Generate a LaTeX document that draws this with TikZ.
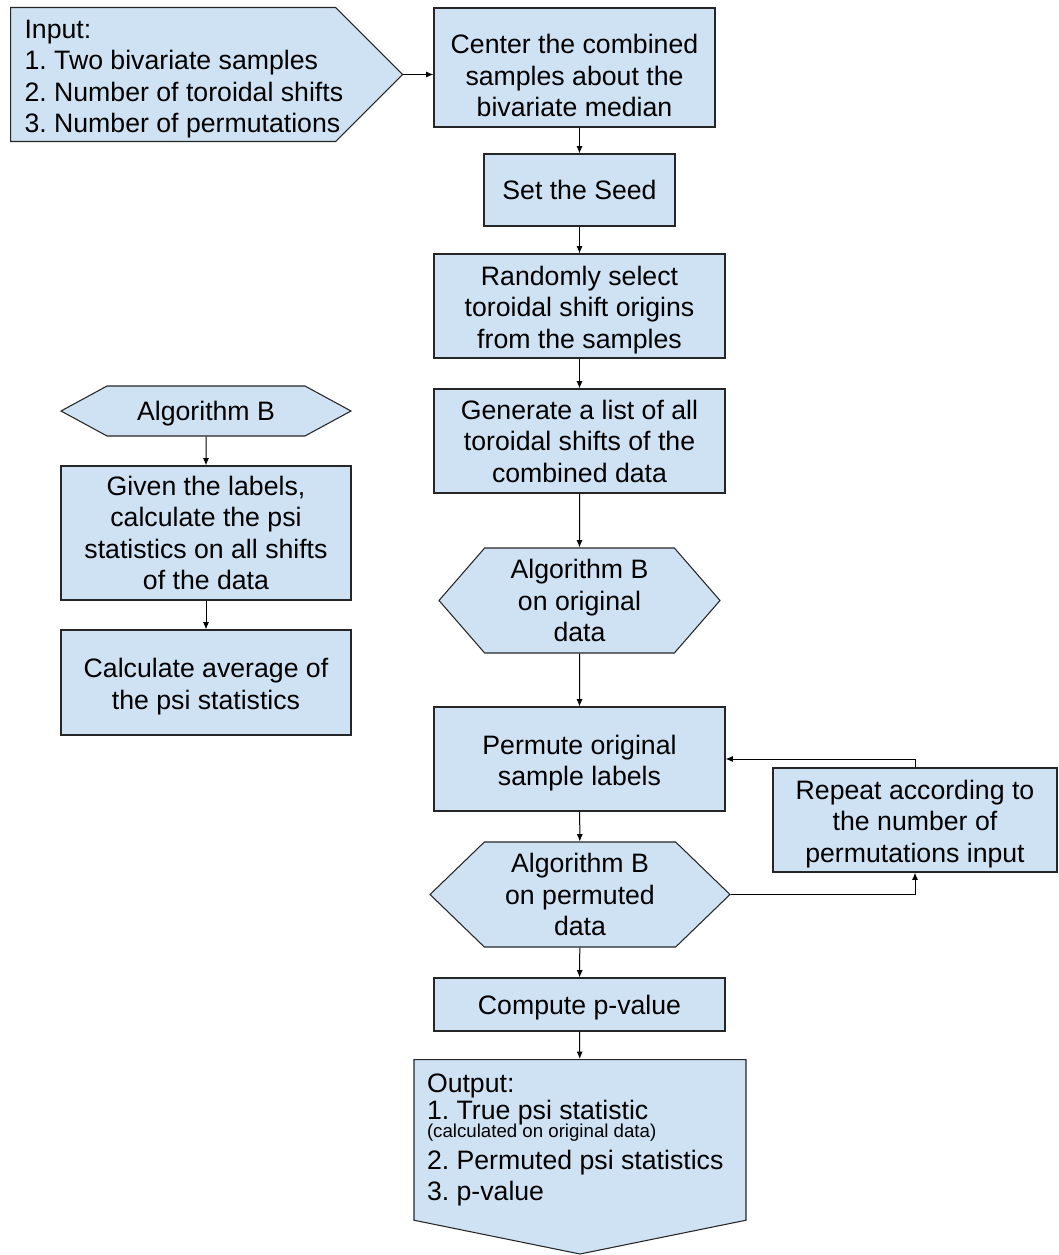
\documentclass[tikz,border=0pt]{standalone}
\usepackage{fontspec}
\setmainfont{Liberation Sans}
\usetikzlibrary{shapes.symbols,arrows.meta,positioning}
\definecolor{boxblue}{HTML}{CFE2F3}
\def\px{0.75pt}
\newcommand{\pushdown}[1]{\rule{0pt}{#1}}
\frenchspacing
\tikzset{
    box/.style={draw=black!85, fill=boxblue, line width=0.8pt, align=center, inner sep=0pt,
        font=\fontsize{20}{23.6}\selectfont},
    rbox/.style 2 args={box, minimum width=#1*\px, minimum height=#2*\px},
    hexa/.style={box, signal, signal to=east and west, signal pointer angle=#1},
    arr/.style={-{Latex[length=5.5pt,width=4.5pt]}, line width=0.75pt},
}
\begin{document}
\begin{tikzpicture}[x=\px, y=-\px]
    \useasboundingbox (0,0) rectangle (1058,1255);
    % input and output
    \node[box, signal, signal to=east, signal pointer angle=90, align=left, anchor=west,
        text width=297*\px, inner xsep=14*\px, minimum height=134*\px] (inp) at (10,74.5)
        {\spaceskip=0pt\relax\mbox{\pushdown{20.6pt}Input:}\\\mbox{1. Two bivariate samples}\\\mbox{2. Number of toroidal shifts}\\\mbox{3. Number of permutations}};
    \node[box, signal, signal to=south, signal pointer angle=157, align=left, anchor=north,
        text width=306*\px, inner xsep=13*\px, inner ysep=14*\px] (out) at (580,1059)
        {\spaceskip=0pt\relax\mbox{Output:}\\[-3pt]\mbox{1. True psi statistic}\\[-10pt]\mbox{\fontsize{14}{16}\selectfont (calculated on original data)}\\\mbox{2. Permuted psi statistics}\\\mbox{3. p-value}};
    % main column
    \node[rbox={281}{119}] (ctr) at (574.5,67.5) {\pushdown{26.6pt}Center the combined\\samples about the\\bivariate median};
    \node[rbox={191}{72}] (seed) at (579.5,190) {Set the Seed};
    \node[rbox={291}{104}] (rand) at (579.5,306) {\pushdown{20.6pt}Randomly select\\toroidal shift origins\\from the samples};
    \node[rbox={291}{104}] (gen) at (579.5,441) {Generate a list of all\\toroidal shifts of the\\combined data};
    \node[hexa=98, minimum width=281*\px, minimum height=105*\px] (orig) at (579.5,600.5) {Algorithm B\\on original\\data};
    \node[rbox={291}{104}] (perm) at (579.5,759) {\pushdown{20.6pt}Permute original\\sample labels};
    \node[hexa=88, minimum width=300*\px, minimum height=105*\px] (pdat) at (580,894.5) {Algorithm B\\on permuted\\data};
    \node[rbox={291}{53}] (pval) at (579.5,1004.5) {\pushdown{19pt}Compute p-value};
    \node[rbox={284}{104}] (rep) at (915,820) {\pushdown{20.6pt}Repeat according to\\the number of\\permutations input};
    % algorithm B
    \node[hexa=57, minimum width=290*\px, minimum height=50*\px] (algb) at (206,411) {\pushdown{19pt}Algorithm B};
    \node[rbox={290}{134}] (given) at (206,533) {Given the labels,\\calculate the psi\\statistics on all shifts\\of the data};
    \node[rbox={290}{105}] (avg) at (206,682.5) {\pushdown{20.6pt}Calculate average of\\the psi statistics};
    % arrows
    \draw[arr] (inp.east) -- (inp.east -| ctr.west);
    \draw[arr] (seed.north |- ctr.south) -- (seed.north);
    \draw[arr] (seed) -- (rand);
    \draw[arr] (rand) -- (gen);
    \draw[arr] (gen) -- (orig);
    \draw[arr] (orig) -- (perm);
    \draw[arr] (perm) -- (pdat);
    \draw[arr] (pdat) -- (pval);
    \draw[arr] (pval) -- (out);
    \draw[arr] (pdat.east) -| (rep.south);
    \draw[arr] (rep.north) |- (perm.east);
    \draw[arr] (algb) -- (given);
    \draw[arr] (given) -- (avg);
\end{tikzpicture}
\end{document}
